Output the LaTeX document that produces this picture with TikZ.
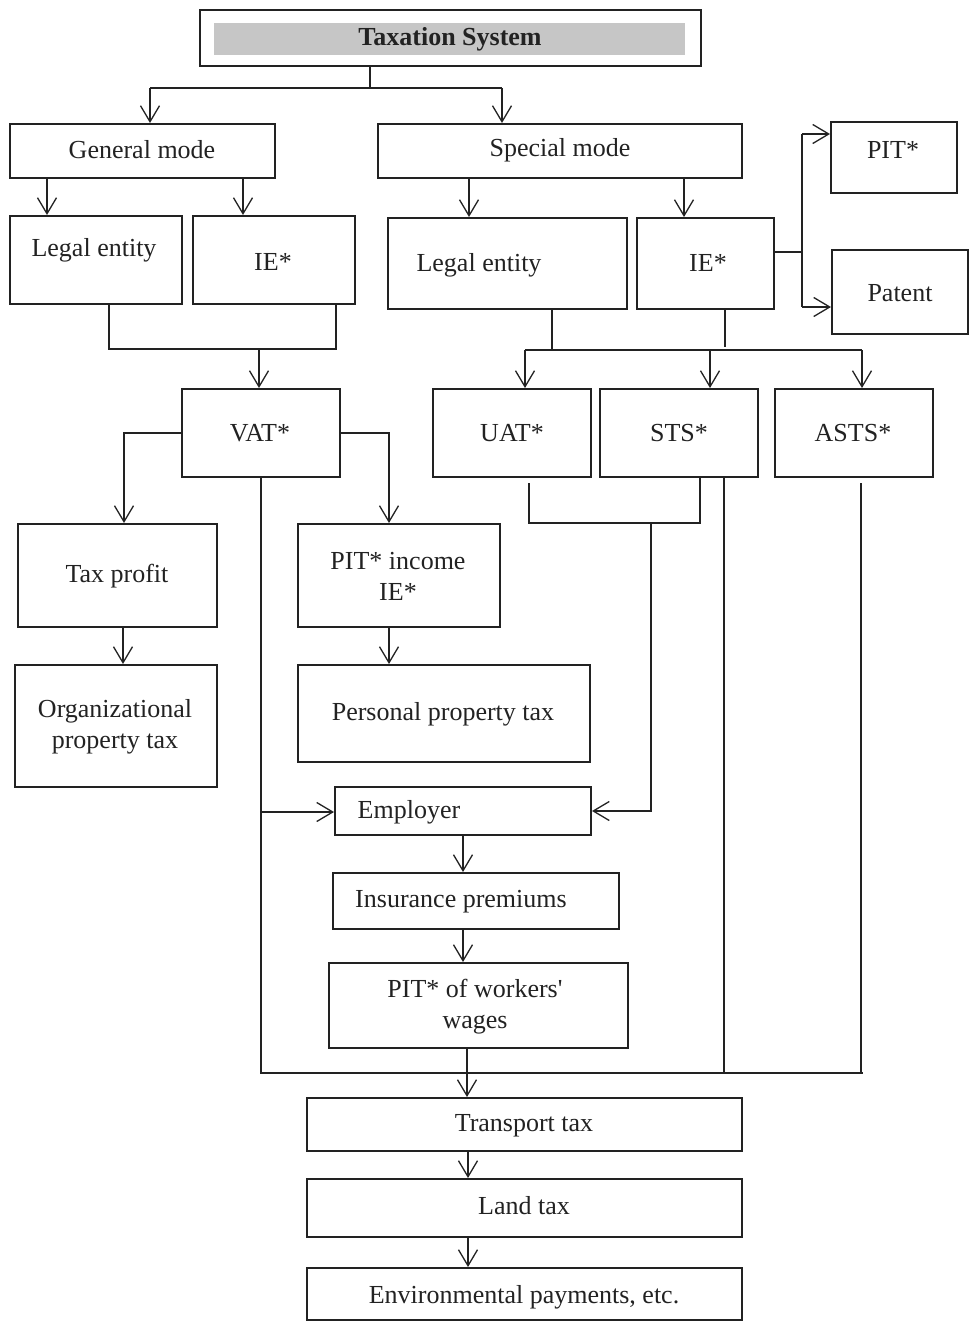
\documentclass[tikz,border=0pt]{standalone}
\usepackage{fontspec}
\setmainfont{Liberation Serif}[Ligatures=TeXOff]
\usetikzlibrary{arrows.meta,fit}
\definecolor{ink}{HTML}{222222}
\definecolor{titlegray}{HTML}{C6C6C6}
\tikzset{
  box/.style={draw=ink, line width=2pt, inner sep=0pt},
  txt/.style={font=\fontsize{26}{31}\selectfont, text=ink, align=center, inner sep=0pt},
  conn/.style={draw=ink, line width=1.3pt},
  arr/.style={conn, -{Straight Barb[length=16pt,width=19pt,line width=1.3pt]}},
}
\newcommand\bx[5]{\node[box, fit={(#2,#3) (#4,#5)}] (#1) {};}
\begin{document}
\begin{tikzpicture}[x=1pt,y=-1pt]
\useasboundingbox (0,0) rectangle (970,1322);
% boxes
\bx{title}{200}{10}{701}{66}
\node[fill=titlegray, inner sep=0pt, fit={(214,23) (685,55)}] (tgray) {};
\bx{gen}{10}{124}{275}{178}
\bx{spec}{378}{124}{742}{178}
\bx{legG}{10}{216}{182}{304}
\bx{ieG}{193}{216}{355}{304}
\bx{legS}{388}{218}{627}{309}
\bx{ieS}{637}{218}{774}{309}
\bx{pit}{831}{122}{957}{193}
\bx{patent}{832}{250}{968}{334}
\bx{vat}{182}{389}{340}{477}
\bx{uat}{433}{389}{591}{477}
\bx{sts}{600}{389}{758}{477}
\bx{asts}{775}{389}{933}{477}
\bx{taxp}{18}{524}{217}{627}
\bx{pitinc}{298}{524}{500}{627}
\bx{org}{15}{665}{217}{787}
\bx{pers}{298}{665}{590}{762}
\bx{emp}{335}{787}{591}{835}
\bx{ins}{333}{873}{619}{929}
\bx{pitw}{329}{963}{628}{1048}
\bx{trans}{307}{1098}{742}{1151}
\bx{land}{307}{1179}{742}{1237}
\bx{env}{307}{1268}{742}{1320}
% texts
\node[txt, font=\fontsize{26}{31}\selectfont\bfseries] (t-title) at (450,39) {Taxation System};
\node[txt] (t-gen) at (142,150) {General mode};
\node[txt] (t-spec) at (560,150) {Special mode};
\node[txt] (t-legG) at (94,250) {Legal entity};
\node[txt] (t-ieG) at (273,262) {IE*};
\node[txt] (t-legS) at (479,265) {Legal entity};
\node[txt] (t-ieS) at (708,263) {IE*};
\node[txt] (t-pit) at (893,150) {PIT*};
\node[txt] (t-patent) at (900,293) {Patent};
\node[txt] (t-vat) at (260,433) {VAT*};
\node[txt] (t-uat) at (512,433) {UAT*};
\node[txt] (t-sts) at (679,433) {STS*};
\node[txt] (t-asts) at (853,433) {ASTS*};
\node[txt] (t-taxp) at (117,576) {Tax profit};
\node[txt] (t-pitinc) at (398,576) {PIT* income\\IE*};
\node[txt] (t-org) at (115,727) {Organizational\\property tax};
\node[txt] (t-pers) at (443,714) {Personal property tax};
\node[txt] (t-emp) at (409,812) {Employer};
\node[txt] (t-ins) at (461,902) {Insurance premiums};
\node[txt] (t-pitw) at (475,1007) {PIT* of workers'\\wages};
\node[txt] (t-trans) at (524,1126) {Transport tax};
\node[txt] (t-land) at (524,1206) {Land tax};
\node[txt] (t-env) at (524,1297) {Environmental payments, etc.};
% junction coordinates
\coordinate (j0) at (370,88);
\coordinate (jL) at (150,88);
\coordinate (jR) at (502,88);
\coordinate (g1) at (47,0);
\coordinate (g2) at (243,0);
\coordinate (s1) at (469,0);
\coordinate (s2) at (684,0);
\coordinate (a1) at (109,349);
\coordinate (a2) at (336,349);
\coordinate (a3) at (259,349);
\coordinate (h1) at (552,350);
\coordinate (h2) at (725,347);
\coordinate (hL) at (525,350);
\coordinate (hM) at (710,350);
\coordinate (hR) at (862,350);
\coordinate (b0) at (802,252);
\coordinate (b1) at (802,134);
\coordinate (b2) at (802,307);
\coordinate (c1) at (124,0);
\coordinate (c2) at (389,0);
\coordinate (c3) at (123,0);
\coordinate (d0) at (261,812);
\coordinate (d1) at (261,1073);
\coordinate (d2) at (863,1073);
\coordinate (e1) at (529,483);
\coordinate (e2) at (529,523);
\coordinate (e3) at (700,523);
\coordinate (e4) at (651,523);
\coordinate (e5) at (651,811);
\coordinate (f1) at (724,1073);
\coordinate (k1) at (861,483);
\coordinate (k2) at (861,1073);
\coordinate (m1) at (463,0);
\coordinate (m2) at (467,0);
\coordinate (m3) at (468,0);
% connectors
\draw[conn] (title.south -| j0) -- (j0);
\draw[conn] (jL) -- (jR);
\draw[arr] (jL) -- (gen.north -| jL);
\draw[arr] (jR) -- (spec.north -| jR);
\draw[arr] (gen.south -| g1) -- (legG.north -| g1);
\draw[arr] (gen.south -| g2) -- (ieG.north -| g2);
\draw[arr] (spec.south -| s1) -- (legS.north -| s1);
\draw[arr] (spec.south -| s2) -- (ieS.north -| s2);
\draw[conn] (legG.south -| a1) -- (a1) -- (a2) -- (ieG.south -| a2);
\draw[arr] (a3) -- (vat.north -| a3);
\draw[conn] (legS.south -| h1) -- (h1);
\draw[conn] (ieS.south -| h2) -- (h2);
\draw[conn] (hL) -- (hR);
\draw[arr] (hL) -- (uat.north -| hL);
\draw[arr] (hM) -- (sts.north -| hM);
\draw[arr] (hR) -- (asts.north -| hR);
\draw[conn] (ieS.east |- b0) -- (b0);
\draw[conn] (b1) -- (b2);
\draw[arr] (b1) -- (pit.west |- b1);
\draw[arr] (b2) -- (patent.west |- b2);
\draw[arr] (vat.west) -| (taxp.north -| c1);
\draw[arr] (vat.east) -| (pitinc.north -| c2);
\draw[arr] (taxp.south -| c3) -- (org.north -| c3);
\draw[arr] (pitinc.south -| c2) -- (pers.north -| c2);
\draw[conn] (vat.south -| d1) -- (d1) -- (d2);
\draw[arr] (d0) -- (emp.west |- d0);
\draw[conn] (e1) -- (e2) -- (e3) -- (sts.south -| e3);
\draw[arr] (e4) -- (e5) -- (emp.east |- e5);
\draw[conn] (sts.south -| f1) -- (f1);
\draw[conn] (k1) -- (k2);
\draw[arr] (emp.south -| m1) -- (ins.north -| m1);
\draw[arr] (ins.south -| m1) -- (pitw.north -| m1);
\draw[arr] (pitw.south -| m2) -- (trans.north -| m2);
\draw[arr] (trans.south -| m3) -- (land.north -| m3);
\draw[arr] (land.south -| m3) -- (env.north -| m3);
\end{tikzpicture}
\end{document}
